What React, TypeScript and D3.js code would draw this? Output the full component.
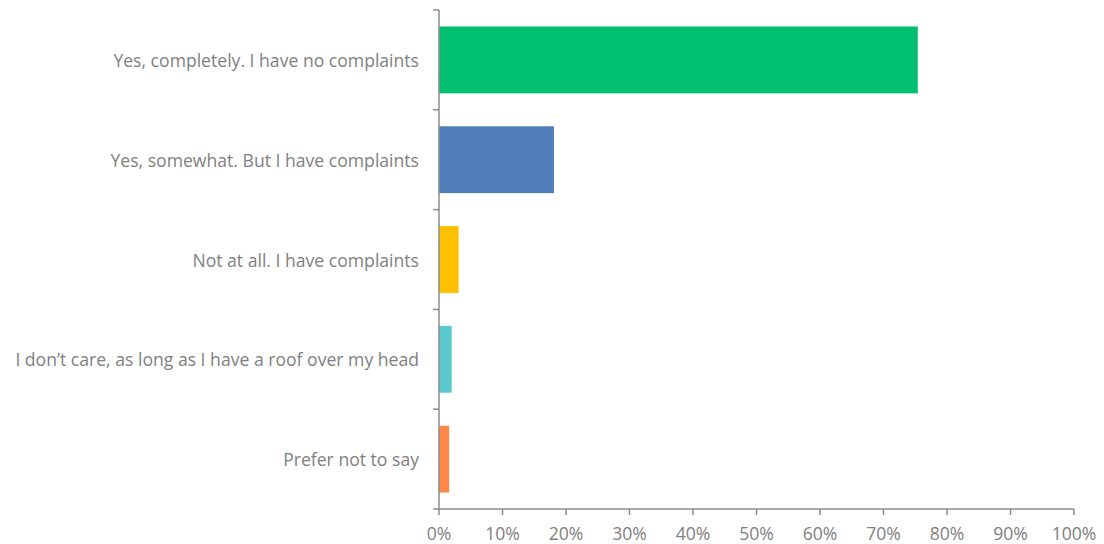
import React from "react";
import * as d3 from "d3";

const categories = [
  "Yes, completely. I have no complaints",
  "Yes, somewhat. But I have complaints",
  "Not at all. I have complaints",
  "I don\u2019t care, as long as I have a roof over my head",
  "Prefer not to say",
];
const values = [75.4, 18.1, 3.1, 2.0, 1.6];
const colors = ["#00BF6F", "#4F7DB8", "#FFC000", "#5BC8CC", "#FF8848"];
const xTicks = [0, 10, 20, 30, 40, 50, 60, 70, 80, 90, 100];

const W = 1104;
const H = 544;
const left = 439;
const right = 1074;
const top = 10;
const bottom = 509;

export default function App() {
  const x = d3.scaleLinear().domain([0, 100]).range([left, right]);
  const y = d3.scaleBand<string>().domain(categories).range([top, bottom]).paddingInner(0.33).paddingOuter(0.165);
  const band = d3.scaleBand<string>().domain(categories).range([top, bottom]);
  const axisColor = "#8c8c8c";
  const textColor = "#7f7f7f";
  const font = "'Open Sans', sans-serif";
  const fs = 17.6;
  return (
    <div style={{ position: "absolute", left: 0, top: 0 }}>
      <svg width={W} height={H} style={{ display: "block" }}>
        <rect width={W} height={H} fill="#fff" />
        {categories.map((c, i) => (
          <rect
            key={c}
            x={x(0)}
            y={y(c)}
            width={x(values[i]) - x(0)}
            height={y.bandwidth()}
            fill={colors[i]}
          />
        ))}
        {/* y axis */}
        <line x1={left} x2={left} y1={top} y2={bottom} stroke={axisColor} strokeWidth={1.5} />
        {categories.map((c) => (
          <line key={"t" + c} x1={left - 6} x2={left} y1={band(c)} y2={band(c)} stroke={axisColor} strokeWidth={1.5} />
        ))}
        <line x1={left - 6} x2={left} y1={bottom} y2={bottom} stroke={axisColor} strokeWidth={1.5} />
        {categories.map((c) => (
          <text
            key={"l" + c}
            x={left - 20}
            y={(band(c) as number) + band.bandwidth() / 2}
            textAnchor="end"
            dominantBaseline="central"
            fill={textColor}
            fontFamily={font}
            fontSize={fs}
          >
            {c}
          </text>
        ))}
        {/* x axis */}
        <line x1={left} x2={right} y1={bottom} y2={bottom} stroke={axisColor} strokeWidth={1.5} />
        {xTicks.map((t) => (
          <g key={"x" + t}>
            <line x1={x(t)} x2={x(t)} y1={bottom} y2={bottom + 6} stroke={axisColor} strokeWidth={1.5} />
            <text
              x={x(t)}
              y={bottom + 24}
              textAnchor="middle"
              dominantBaseline="central"
              fill={textColor}
              fontFamily={font}
              fontSize={fs}
            >
              {t}%
            </text>
          </g>
        ))}
      </svg>
    </div>
  );
}
